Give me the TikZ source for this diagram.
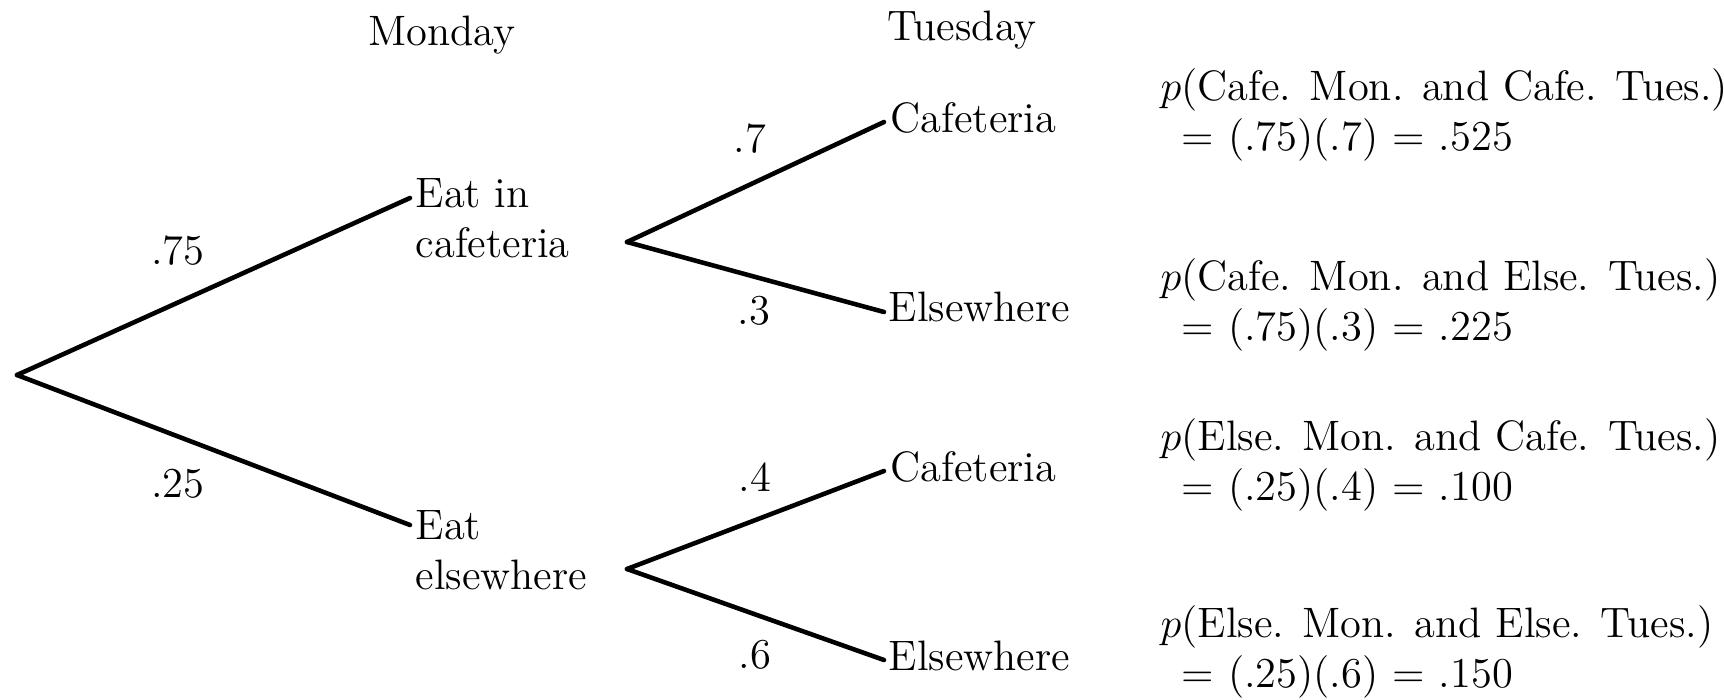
\documentclass[tikz,border=0pt]{standalone}
\begin{document}
\begin{tikzpicture}[x=0.01cm,y=-0.01cm,
  txt/.style={inner sep=0pt, font=\fontsize{12.1}{14.2}\selectfont},
  multi/.style={txt, align=left, anchor=north west},
  branch/.style={line width=1.3pt, line cap=round}]
\useasboundingbox (0,0) rectangle (1724,700);
% headings
\node[txt, anchor=base] (mon) at (442,45) {Monday};
\node[txt, anchor=base] (tue) at (962,41) {Tuesday};
% junction points
\coordinate (root) at (17,375);
\coordinate (m1) at (410,198);
\coordinate (m2) at (410,525);
\coordinate (s1) at (627,242);
\coordinate (s2) at (627,569);
\coordinate (t1) at (884,122);
\coordinate (t2) at (884,312);
\coordinate (t3) at (884,471);
\coordinate (t4) at (884,660);
% Monday outcomes
\node[multi] (ec) at (415,178) {Eat in\\cafeteria};
\node[multi] (ee) at (415,510) {Eat\\elsewhere};
% Tuesday outcomes
\node[txt, anchor=base west] (c1) at (890,132) {Cafeteria};
\node[txt, anchor=base west] (e1) at (888,321) {Elsewhere};
\node[txt, anchor=base west] (c2) at (890,481) {Cafeteria};
\node[txt, anchor=base west] (e2) at (888,670) {Elsewhere};
% branches
\draw[branch] (root) -- (m1);
\draw[branch] (root) -- (m2);
\draw[branch] (s1) -- (t1);
\draw[branch] (s1) -- (t2);
\draw[branch] (s2) -- (t3);
\draw[branch] (s2) -- (t4);
% probabilities
\node[txt] (p75) at (178,251) {.75};
\node[txt] (p25) at (178,484) {.25};
\node[txt] (p7) at (750,139) {.7};
\node[txt] (p3) at (754,311) {.3};
\node[txt] (p4) at (755,477) {.4};
\node[txt] (p6) at (755,655) {.6};
% joint probabilities
\node[multi] (r1) at (1160,68) {$p$(Cafe. Mon. and Cafe. Tues.)\\\hspace*{6pt}= (.75)(.7) = .525};
\node[multi] (r2) at (1160,258) {$p$(Cafe. Mon. and Else. Tues.)\\\hspace*{6pt}= (.75)(.3) = .225};
\node[multi] (r3) at (1160,418) {$p$(Else. Mon. and Cafe. Tues.)\\\hspace*{6pt}= (.25)(.4) = .100};
\node[multi] (r4) at (1160,605) {$p$(Else. Mon. and Else. Tues.)\\\hspace*{6pt}= (.25)(.6) = .150};
\end{tikzpicture}
\end{document}
